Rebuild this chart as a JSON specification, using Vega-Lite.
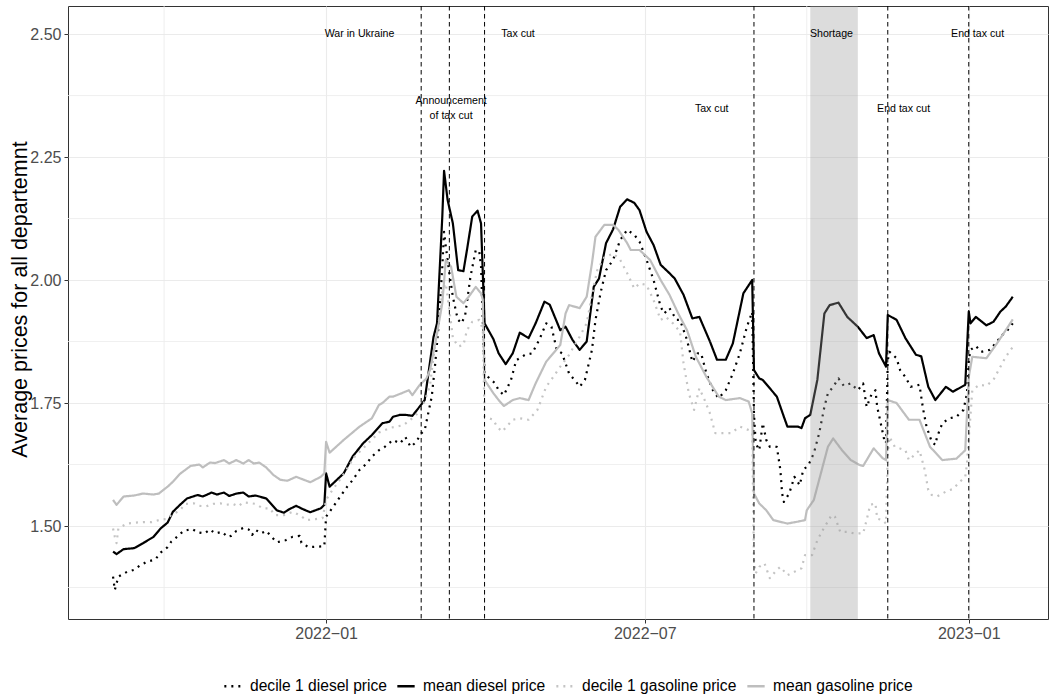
{
  "$schema": "https://vega.github.io/schema/vega-lite/v6.json",
  "width": 980,
  "height": 613,
  "autosize": "none",
  "padding": {"left": 68, "top": 6, "right": 3, "bottom": 79},
  "background": "white",
  "config": {
    "font": "Liberation Sans",
    "view": {"stroke": "#333333", "strokeWidth": 1}
  },
  "datasets": {
    "prices": [
      {"series": "decile 1 diesel price", "date": "2021-09-02", "price": 1.397},
      {"series": "decile 1 diesel price", "date": "2021-09-03", "price": 1.370},
      {"series": "decile 1 diesel price", "date": "2021-09-05", "price": 1.397},
      {"series": "decile 1 diesel price", "date": "2021-09-10", "price": 1.407},
      {"series": "decile 1 diesel price", "date": "2021-09-14", "price": 1.411},
      {"series": "decile 1 diesel price", "date": "2021-09-17", "price": 1.419},
      {"series": "decile 1 diesel price", "date": "2021-09-21", "price": 1.427},
      {"series": "decile 1 diesel price", "date": "2021-09-26", "price": 1.432},
      {"series": "decile 1 diesel price", "date": "2021-09-29", "price": 1.446},
      {"series": "decile 1 diesel price", "date": "2021-10-03", "price": 1.457},
      {"series": "decile 1 diesel price", "date": "2021-10-05", "price": 1.468},
      {"series": "decile 1 diesel price", "date": "2021-10-09", "price": 1.480},
      {"series": "decile 1 diesel price", "date": "2021-10-12", "price": 1.490},
      {"series": "decile 1 diesel price", "date": "2021-10-17", "price": 1.494},
      {"series": "decile 1 diesel price", "date": "2021-10-20", "price": 1.487},
      {"series": "decile 1 diesel price", "date": "2021-10-24", "price": 1.485},
      {"series": "decile 1 diesel price", "date": "2021-10-27", "price": 1.493},
      {"series": "decile 1 diesel price", "date": "2021-10-30", "price": 1.485},
      {"series": "decile 1 diesel price", "date": "2021-11-03", "price": 1.488},
      {"series": "decile 1 diesel price", "date": "2021-11-06", "price": 1.478},
      {"series": "decile 1 diesel price", "date": "2021-11-08", "price": 1.480},
      {"series": "decile 1 diesel price", "date": "2021-11-11", "price": 1.490},
      {"series": "decile 1 diesel price", "date": "2021-11-15", "price": 1.496},
      {"series": "decile 1 diesel price", "date": "2021-11-18", "price": 1.493},
      {"series": "decile 1 diesel price", "date": "2021-11-20", "price": 1.482},
      {"series": "decile 1 diesel price", "date": "2021-11-22", "price": 1.492},
      {"series": "decile 1 diesel price", "date": "2021-11-25", "price": 1.485},
      {"series": "decile 1 diesel price", "date": "2021-11-28", "price": 1.490},
      {"series": "decile 1 diesel price", "date": "2021-12-01", "price": 1.478},
      {"series": "decile 1 diesel price", "date": "2021-12-04", "price": 1.467},
      {"series": "decile 1 diesel price", "date": "2021-12-09", "price": 1.471},
      {"series": "decile 1 diesel price", "date": "2021-12-13", "price": 1.478},
      {"series": "decile 1 diesel price", "date": "2021-12-17", "price": 1.480},
      {"series": "decile 1 diesel price", "date": "2021-12-18", "price": 1.466},
      {"series": "decile 1 diesel price", "date": "2021-12-22", "price": 1.457},
      {"series": "decile 1 diesel price", "date": "2021-12-27", "price": 1.458},
      {"series": "decile 1 diesel price", "date": "2021-12-31", "price": 1.459},
      {"series": "decile 1 diesel price", "date": "2022-01-01", "price": 1.519},
      {"series": "decile 1 diesel price", "date": "2022-01-05", "price": 1.539},
      {"series": "decile 1 diesel price", "date": "2022-01-09", "price": 1.560},
      {"series": "decile 1 diesel price", "date": "2022-01-13", "price": 1.580},
      {"series": "decile 1 diesel price", "date": "2022-01-16", "price": 1.593},
      {"series": "decile 1 diesel price", "date": "2022-01-20", "price": 1.614},
      {"series": "decile 1 diesel price", "date": "2022-01-24", "price": 1.627},
      {"series": "decile 1 diesel price", "date": "2022-01-27", "price": 1.641},
      {"series": "decile 1 diesel price", "date": "2022-01-31", "price": 1.654},
      {"series": "decile 1 diesel price", "date": "2022-02-03", "price": 1.660},
      {"series": "decile 1 diesel price", "date": "2022-02-08", "price": 1.675},
      {"series": "decile 1 diesel price", "date": "2022-02-12", "price": 1.668},
      {"series": "decile 1 diesel price", "date": "2022-02-15", "price": 1.681},
      {"series": "decile 1 diesel price", "date": "2022-02-18", "price": 1.661},
      {"series": "decile 1 diesel price", "date": "2022-02-21", "price": 1.670},
      {"series": "decile 1 diesel price", "date": "2022-02-24", "price": 1.688},
      {"series": "decile 1 diesel price", "date": "2022-02-26", "price": 1.695},
      {"series": "decile 1 diesel price", "date": "2022-03-02", "price": 1.763},
      {"series": "decile 1 diesel price", "date": "2022-03-04", "price": 1.831},
      {"series": "decile 1 diesel price", "date": "2022-03-06", "price": 1.912},
      {"series": "decile 1 diesel price", "date": "2022-03-08", "price": 2.027},
      {"series": "decile 1 diesel price", "date": "2022-03-09", "price": 2.098},
      {"series": "decile 1 diesel price", "date": "2022-03-10", "price": 2.068},
      {"series": "decile 1 diesel price", "date": "2022-03-12", "price": 2.014},
      {"series": "decile 1 diesel price", "date": "2022-03-14", "price": 1.966},
      {"series": "decile 1 diesel price", "date": "2022-03-16", "price": 1.932},
      {"series": "decile 1 diesel price", "date": "2022-03-17", "price": 1.919},
      {"series": "decile 1 diesel price", "date": "2022-03-19", "price": 1.912},
      {"series": "decile 1 diesel price", "date": "2022-03-21", "price": 1.929},
      {"series": "decile 1 diesel price", "date": "2022-03-24", "price": 2.007},
      {"series": "decile 1 diesel price", "date": "2022-03-27", "price": 2.061},
      {"series": "decile 1 diesel price", "date": "2022-03-29", "price": 2.058},
      {"series": "decile 1 diesel price", "date": "2022-03-30", "price": 2.027},
      {"series": "decile 1 diesel price", "date": "2022-04-01", "price": 1.810},
      {"series": "decile 1 diesel price", "date": "2022-04-03", "price": 1.803},
      {"series": "decile 1 diesel price", "date": "2022-04-07", "price": 1.790},
      {"series": "decile 1 diesel price", "date": "2022-04-09", "price": 1.776},
      {"series": "decile 1 diesel price", "date": "2022-04-12", "price": 1.766},
      {"series": "decile 1 diesel price", "date": "2022-04-16", "price": 1.797},
      {"series": "decile 1 diesel price", "date": "2022-04-19", "price": 1.837},
      {"series": "decile 1 diesel price", "date": "2022-04-24", "price": 1.848},
      {"series": "decile 1 diesel price", "date": "2022-04-28", "price": 1.851},
      {"series": "decile 1 diesel price", "date": "2022-05-02", "price": 1.878},
      {"series": "decile 1 diesel price", "date": "2022-05-06", "price": 1.912},
      {"series": "decile 1 diesel price", "date": "2022-05-09", "price": 1.905},
      {"series": "decile 1 diesel price", "date": "2022-05-12", "price": 1.858},
      {"series": "decile 1 diesel price", "date": "2022-05-15", "price": 1.851},
      {"series": "decile 1 diesel price", "date": "2022-05-19", "price": 1.810},
      {"series": "decile 1 diesel price", "date": "2022-05-23", "price": 1.793},
      {"series": "decile 1 diesel price", "date": "2022-05-25", "price": 1.783},
      {"series": "decile 1 diesel price", "date": "2022-05-28", "price": 1.797},
      {"series": "decile 1 diesel price", "date": "2022-06-01", "price": 1.858},
      {"series": "decile 1 diesel price", "date": "2022-06-03", "price": 1.919},
      {"series": "decile 1 diesel price", "date": "2022-06-06", "price": 1.976},
      {"series": "decile 1 diesel price", "date": "2022-06-09", "price": 2.020},
      {"series": "decile 1 diesel price", "date": "2022-06-13", "price": 2.041},
      {"series": "decile 1 diesel price", "date": "2022-06-17", "price": 2.081},
      {"series": "decile 1 diesel price", "date": "2022-06-21", "price": 2.102},
      {"series": "decile 1 diesel price", "date": "2022-06-25", "price": 2.092},
      {"series": "decile 1 diesel price", "date": "2022-06-28", "price": 2.078},
      {"series": "decile 1 diesel price", "date": "2022-07-02", "price": 2.041},
      {"series": "decile 1 diesel price", "date": "2022-07-06", "price": 2.000},
      {"series": "decile 1 diesel price", "date": "2022-07-10", "price": 1.946},
      {"series": "decile 1 diesel price", "date": "2022-07-12", "price": 1.932},
      {"series": "decile 1 diesel price", "date": "2022-07-15", "price": 1.943},
      {"series": "decile 1 diesel price", "date": "2022-07-19", "price": 1.919},
      {"series": "decile 1 diesel price", "date": "2022-07-21", "price": 1.919},
      {"series": "decile 1 diesel price", "date": "2022-07-25", "price": 1.878},
      {"series": "decile 1 diesel price", "date": "2022-07-28", "price": 1.834},
      {"series": "decile 1 diesel price", "date": "2022-07-31", "price": 1.851},
      {"series": "decile 1 diesel price", "date": "2022-08-02", "price": 1.851},
      {"series": "decile 1 diesel price", "date": "2022-08-05", "price": 1.810},
      {"series": "decile 1 diesel price", "date": "2022-08-09", "price": 1.773},
      {"series": "decile 1 diesel price", "date": "2022-08-12", "price": 1.760},
      {"series": "decile 1 diesel price", "date": "2022-08-16", "price": 1.776},
      {"series": "decile 1 diesel price", "date": "2022-08-20", "price": 1.810},
      {"series": "decile 1 diesel price", "date": "2022-08-24", "price": 1.851},
      {"series": "decile 1 diesel price", "date": "2022-08-28", "price": 1.905},
      {"series": "decile 1 diesel price", "date": "2022-08-31", "price": 1.935},
      {"series": "decile 1 diesel price", "date": "2022-09-01", "price": 1.729},
      {"series": "decile 1 diesel price", "date": "2022-09-02", "price": 1.668},
      {"series": "decile 1 diesel price", "date": "2022-09-04", "price": 1.654},
      {"series": "decile 1 diesel price", "date": "2022-09-06", "price": 1.709},
      {"series": "decile 1 diesel price", "date": "2022-09-08", "price": 1.675},
      {"series": "decile 1 diesel price", "date": "2022-09-10", "price": 1.661},
      {"series": "decile 1 diesel price", "date": "2022-09-14", "price": 1.661},
      {"series": "decile 1 diesel price", "date": "2022-09-16", "price": 1.614},
      {"series": "decile 1 diesel price", "date": "2022-09-17", "price": 1.566},
      {"series": "decile 1 diesel price", "date": "2022-09-18", "price": 1.549},
      {"series": "decile 1 diesel price", "date": "2022-09-21", "price": 1.566},
      {"series": "decile 1 diesel price", "date": "2022-09-24", "price": 1.600},
      {"series": "decile 1 diesel price", "date": "2022-09-27", "price": 1.583},
      {"series": "decile 1 diesel price", "date": "2022-09-29", "price": 1.614},
      {"series": "decile 1 diesel price", "date": "2022-10-02", "price": 1.624},
      {"series": "decile 1 diesel price", "date": "2022-10-05", "price": 1.648},
      {"series": "decile 1 diesel price", "date": "2022-10-08", "price": 1.688},
      {"series": "decile 1 diesel price", "date": "2022-10-11", "price": 1.742},
      {"series": "decile 1 diesel price", "date": "2022-10-13", "price": 1.770},
      {"series": "decile 1 diesel price", "date": "2022-10-16", "price": 1.783},
      {"series": "decile 1 diesel price", "date": "2022-10-19", "price": 1.800},
      {"series": "decile 1 diesel price", "date": "2022-10-22", "price": 1.785},
      {"series": "decile 1 diesel price", "date": "2022-10-26", "price": 1.790},
      {"series": "decile 1 diesel price", "date": "2022-10-30", "price": 1.776},
      {"series": "decile 1 diesel price", "date": "2022-11-02", "price": 1.790},
      {"series": "decile 1 diesel price", "date": "2022-11-04", "price": 1.742},
      {"series": "decile 1 diesel price", "date": "2022-11-07", "price": 1.770},
      {"series": "decile 1 diesel price", "date": "2022-11-09", "price": 1.776},
      {"series": "decile 1 diesel price", "date": "2022-11-10", "price": 1.742},
      {"series": "decile 1 diesel price", "date": "2022-11-12", "price": 1.709},
      {"series": "decile 1 diesel price", "date": "2022-11-14", "price": 1.675},
      {"series": "decile 1 diesel price", "date": "2022-11-15", "price": 1.668},
      {"series": "decile 1 diesel price", "date": "2022-11-16", "price": 1.837},
      {"series": "decile 1 diesel price", "date": "2022-11-17", "price": 1.854},
      {"series": "decile 1 diesel price", "date": "2022-11-21", "price": 1.841},
      {"series": "decile 1 diesel price", "date": "2022-11-23", "price": 1.817},
      {"series": "decile 1 diesel price", "date": "2022-11-26", "price": 1.803},
      {"series": "decile 1 diesel price", "date": "2022-11-29", "price": 1.783},
      {"series": "decile 1 diesel price", "date": "2022-12-04", "price": 1.787},
      {"series": "decile 1 diesel price", "date": "2022-12-06", "price": 1.739},
      {"series": "decile 1 diesel price", "date": "2022-12-08", "price": 1.702},
      {"series": "decile 1 diesel price", "date": "2022-12-11", "price": 1.671},
      {"series": "decile 1 diesel price", "date": "2022-12-13", "price": 1.665},
      {"series": "decile 1 diesel price", "date": "2022-12-14", "price": 1.681},
      {"series": "decile 1 diesel price", "date": "2022-12-17", "price": 1.709},
      {"series": "decile 1 diesel price", "date": "2022-12-21", "price": 1.719},
      {"series": "decile 1 diesel price", "date": "2022-12-25", "price": 1.722},
      {"series": "decile 1 diesel price", "date": "2022-12-29", "price": 1.736},
      {"series": "decile 1 diesel price", "date": "2022-12-31", "price": 1.770},
      {"series": "decile 1 diesel price", "date": "2023-01-01", "price": 1.837},
      {"series": "decile 1 diesel price", "date": "2023-01-02", "price": 1.858},
      {"series": "decile 1 diesel price", "date": "2023-01-05", "price": 1.866},
      {"series": "decile 1 diesel price", "date": "2023-01-08", "price": 1.854},
      {"series": "decile 1 diesel price", "date": "2023-01-13", "price": 1.858},
      {"series": "decile 1 diesel price", "date": "2023-01-17", "price": 1.875},
      {"series": "decile 1 diesel price", "date": "2023-01-20", "price": 1.888},
      {"series": "decile 1 diesel price", "date": "2023-01-23", "price": 1.898},
      {"series": "decile 1 diesel price", "date": "2023-01-26", "price": 1.912},

      {"series": "mean diesel price", "date": "2021-09-02", "price": 1.448},
      {"series": "mean diesel price", "date": "2021-09-04", "price": 1.443},
      {"series": "mean diesel price", "date": "2021-09-08", "price": 1.453},
      {"series": "mean diesel price", "date": "2021-09-14", "price": 1.455},
      {"series": "mean diesel price", "date": "2021-09-19", "price": 1.465},
      {"series": "mean diesel price", "date": "2021-09-25", "price": 1.478},
      {"series": "mean diesel price", "date": "2021-09-29", "price": 1.495},
      {"series": "mean diesel price", "date": "2021-10-03", "price": 1.507},
      {"series": "mean diesel price", "date": "2021-10-06", "price": 1.529},
      {"series": "mean diesel price", "date": "2021-10-10", "price": 1.543},
      {"series": "mean diesel price", "date": "2021-10-14", "price": 1.556},
      {"series": "mean diesel price", "date": "2021-10-20", "price": 1.563},
      {"series": "mean diesel price", "date": "2021-10-23", "price": 1.560},
      {"series": "mean diesel price", "date": "2021-10-28", "price": 1.568},
      {"series": "mean diesel price", "date": "2021-10-31", "price": 1.564},
      {"series": "mean diesel price", "date": "2021-11-04", "price": 1.568},
      {"series": "mean diesel price", "date": "2021-11-07", "price": 1.561},
      {"series": "mean diesel price", "date": "2021-11-11", "price": 1.566},
      {"series": "mean diesel price", "date": "2021-11-15", "price": 1.568},
      {"series": "mean diesel price", "date": "2021-11-18", "price": 1.560},
      {"series": "mean diesel price", "date": "2021-11-22", "price": 1.562},
      {"series": "mean diesel price", "date": "2021-11-28", "price": 1.556},
      {"series": "mean diesel price", "date": "2021-12-04", "price": 1.532},
      {"series": "mean diesel price", "date": "2021-12-08", "price": 1.527},
      {"series": "mean diesel price", "date": "2021-12-11", "price": 1.534},
      {"series": "mean diesel price", "date": "2021-12-15", "price": 1.541},
      {"series": "mean diesel price", "date": "2021-12-19", "price": 1.534},
      {"series": "mean diesel price", "date": "2021-12-23", "price": 1.528},
      {"series": "mean diesel price", "date": "2021-12-29", "price": 1.536},
      {"series": "mean diesel price", "date": "2021-12-31", "price": 1.543},
      {"series": "mean diesel price", "date": "2022-01-01", "price": 1.607},
      {"series": "mean diesel price", "date": "2022-01-03", "price": 1.580},
      {"series": "mean diesel price", "date": "2022-01-11", "price": 1.607},
      {"series": "mean diesel price", "date": "2022-01-16", "price": 1.641},
      {"series": "mean diesel price", "date": "2022-01-22", "price": 1.668},
      {"series": "mean diesel price", "date": "2022-01-27", "price": 1.685},
      {"series": "mean diesel price", "date": "2022-02-02", "price": 1.709},
      {"series": "mean diesel price", "date": "2022-02-06", "price": 1.712},
      {"series": "mean diesel price", "date": "2022-02-08", "price": 1.722},
      {"series": "mean diesel price", "date": "2022-02-12", "price": 1.726},
      {"series": "mean diesel price", "date": "2022-02-15", "price": 1.726},
      {"series": "mean diesel price", "date": "2022-02-19", "price": 1.724},
      {"series": "mean diesel price", "date": "2022-02-23", "price": 1.742},
      {"series": "mean diesel price", "date": "2022-02-26", "price": 1.756},
      {"series": "mean diesel price", "date": "2022-03-03", "price": 1.884},
      {"series": "mean diesel price", "date": "2022-03-05", "price": 1.912},
      {"series": "mean diesel price", "date": "2022-03-08", "price": 2.129},
      {"series": "mean diesel price", "date": "2022-03-09", "price": 2.222},
      {"series": "mean diesel price", "date": "2022-03-11", "price": 2.163},
      {"series": "mean diesel price", "date": "2022-03-14", "price": 2.115},
      {"series": "mean diesel price", "date": "2022-03-17", "price": 2.020},
      {"series": "mean diesel price", "date": "2022-03-20", "price": 2.018},
      {"series": "mean diesel price", "date": "2022-03-22", "price": 2.061},
      {"series": "mean diesel price", "date": "2022-03-25", "price": 2.129},
      {"series": "mean diesel price", "date": "2022-03-28", "price": 2.141},
      {"series": "mean diesel price", "date": "2022-03-30", "price": 2.115},
      {"series": "mean diesel price", "date": "2022-04-01", "price": 1.912},
      {"series": "mean diesel price", "date": "2022-04-06", "price": 1.880},
      {"series": "mean diesel price", "date": "2022-04-09", "price": 1.851},
      {"series": "mean diesel price", "date": "2022-04-13", "price": 1.829},
      {"series": "mean diesel price", "date": "2022-04-17", "price": 1.851},
      {"series": "mean diesel price", "date": "2022-04-21", "price": 1.893},
      {"series": "mean diesel price", "date": "2022-04-26", "price": 1.882},
      {"series": "mean diesel price", "date": "2022-04-30", "price": 1.912},
      {"series": "mean diesel price", "date": "2022-05-05", "price": 1.956},
      {"series": "mean diesel price", "date": "2022-05-08", "price": 1.950},
      {"series": "mean diesel price", "date": "2022-05-14", "price": 1.898},
      {"series": "mean diesel price", "date": "2022-05-17", "price": 1.905},
      {"series": "mean diesel price", "date": "2022-05-21", "price": 1.878},
      {"series": "mean diesel price", "date": "2022-05-25", "price": 1.858},
      {"series": "mean diesel price", "date": "2022-05-29", "price": 1.875},
      {"series": "mean diesel price", "date": "2022-06-02", "price": 1.986},
      {"series": "mean diesel price", "date": "2022-06-05", "price": 2.003},
      {"series": "mean diesel price", "date": "2022-06-09", "price": 2.075},
      {"series": "mean diesel price", "date": "2022-06-13", "price": 2.103},
      {"series": "mean diesel price", "date": "2022-06-17", "price": 2.149},
      {"series": "mean diesel price", "date": "2022-06-21", "price": 2.164},
      {"series": "mean diesel price", "date": "2022-06-25", "price": 2.157},
      {"series": "mean diesel price", "date": "2022-06-28", "price": 2.142},
      {"series": "mean diesel price", "date": "2022-07-02", "price": 2.098},
      {"series": "mean diesel price", "date": "2022-07-06", "price": 2.071},
      {"series": "mean diesel price", "date": "2022-07-10", "price": 2.031},
      {"series": "mean diesel price", "date": "2022-07-15", "price": 2.014},
      {"series": "mean diesel price", "date": "2022-07-18", "price": 2.003},
      {"series": "mean diesel price", "date": "2022-07-23", "price": 1.970},
      {"series": "mean diesel price", "date": "2022-07-28", "price": 1.922},
      {"series": "mean diesel price", "date": "2022-08-01", "price": 1.925},
      {"series": "mean diesel price", "date": "2022-08-07", "price": 1.875},
      {"series": "mean diesel price", "date": "2022-08-11", "price": 1.838},
      {"series": "mean diesel price", "date": "2022-08-16", "price": 1.838},
      {"series": "mean diesel price", "date": "2022-08-20", "price": 1.871},
      {"series": "mean diesel price", "date": "2022-08-26", "price": 1.973},
      {"series": "mean diesel price", "date": "2022-08-31", "price": 2.000},
      {"series": "mean diesel price", "date": "2022-09-01", "price": 1.817},
      {"series": "mean diesel price", "date": "2022-09-04", "price": 1.800},
      {"series": "mean diesel price", "date": "2022-09-06", "price": 1.797},
      {"series": "mean diesel price", "date": "2022-09-10", "price": 1.780},
      {"series": "mean diesel price", "date": "2022-09-14", "price": 1.763},
      {"series": "mean diesel price", "date": "2022-09-18", "price": 1.722},
      {"series": "mean diesel price", "date": "2022-09-20", "price": 1.702},
      {"series": "mean diesel price", "date": "2022-09-26", "price": 1.702},
      {"series": "mean diesel price", "date": "2022-09-28", "price": 1.699},
      {"series": "mean diesel price", "date": "2022-09-30", "price": 1.719},
      {"series": "mean diesel price", "date": "2022-10-03", "price": 1.726},
      {"series": "mean diesel price", "date": "2022-10-07", "price": 1.797},
      {"series": "mean diesel price", "date": "2022-10-11", "price": 1.932},
      {"series": "mean diesel price", "date": "2022-10-14", "price": 1.949},
      {"series": "mean diesel price", "date": "2022-10-19", "price": 1.954},
      {"series": "mean diesel price", "date": "2022-10-24", "price": 1.925},
      {"series": "mean diesel price", "date": "2022-10-30", "price": 1.905},
      {"series": "mean diesel price", "date": "2022-11-04", "price": 1.882},
      {"series": "mean diesel price", "date": "2022-11-08", "price": 1.888},
      {"series": "mean diesel price", "date": "2022-11-11", "price": 1.851},
      {"series": "mean diesel price", "date": "2022-11-15", "price": 1.824},
      {"series": "mean diesel price", "date": "2022-11-16", "price": 1.929},
      {"series": "mean diesel price", "date": "2022-11-21", "price": 1.919},
      {"series": "mean diesel price", "date": "2022-11-26", "price": 1.882},
      {"series": "mean diesel price", "date": "2022-12-02", "price": 1.848},
      {"series": "mean diesel price", "date": "2022-12-05", "price": 1.845},
      {"series": "mean diesel price", "date": "2022-12-09", "price": 1.783},
      {"series": "mean diesel price", "date": "2022-12-13", "price": 1.756},
      {"series": "mean diesel price", "date": "2022-12-19", "price": 1.783},
      {"series": "mean diesel price", "date": "2022-12-23", "price": 1.773},
      {"series": "mean diesel price", "date": "2022-12-30", "price": 1.787},
      {"series": "mean diesel price", "date": "2023-01-01", "price": 1.936},
      {"series": "mean diesel price", "date": "2023-01-02", "price": 1.912},
      {"series": "mean diesel price", "date": "2023-01-05", "price": 1.925},
      {"series": "mean diesel price", "date": "2023-01-11", "price": 1.908},
      {"series": "mean diesel price", "date": "2023-01-15", "price": 1.915},
      {"series": "mean diesel price", "date": "2023-01-19", "price": 1.936},
      {"series": "mean diesel price", "date": "2023-01-22", "price": 1.946},
      {"series": "mean diesel price", "date": "2023-01-26", "price": 1.966},

      {"series": "decile 1 gasoline price", "date": "2021-09-02", "price": 1.495},
      {"series": "decile 1 gasoline price", "date": "2021-09-03", "price": 1.478},
      {"series": "decile 1 gasoline price", "date": "2021-09-04", "price": 1.465},
      {"series": "decile 1 gasoline price", "date": "2021-09-05", "price": 1.495},
      {"series": "decile 1 gasoline price", "date": "2021-09-10", "price": 1.505},
      {"series": "decile 1 gasoline price", "date": "2021-09-15", "price": 1.507},
      {"series": "decile 1 gasoline price", "date": "2021-09-19", "price": 1.508},
      {"series": "decile 1 gasoline price", "date": "2021-09-24", "price": 1.508},
      {"series": "decile 1 gasoline price", "date": "2021-09-28", "price": 1.512},
      {"series": "decile 1 gasoline price", "date": "2021-10-02", "price": 1.514},
      {"series": "decile 1 gasoline price", "date": "2021-10-05", "price": 1.522},
      {"series": "decile 1 gasoline price", "date": "2021-10-10", "price": 1.532},
      {"series": "decile 1 gasoline price", "date": "2021-10-13", "price": 1.545},
      {"series": "decile 1 gasoline price", "date": "2021-10-18", "price": 1.546},
      {"series": "decile 1 gasoline price", "date": "2021-10-21", "price": 1.541},
      {"series": "decile 1 gasoline price", "date": "2021-10-25", "price": 1.540},
      {"series": "decile 1 gasoline price", "date": "2021-10-29", "price": 1.545},
      {"series": "decile 1 gasoline price", "date": "2021-11-02", "price": 1.546},
      {"series": "decile 1 gasoline price", "date": "2021-11-05", "price": 1.543},
      {"series": "decile 1 gasoline price", "date": "2021-11-09", "price": 1.545},
      {"series": "decile 1 gasoline price", "date": "2021-11-12", "price": 1.540},
      {"series": "decile 1 gasoline price", "date": "2021-11-15", "price": 1.548},
      {"series": "decile 1 gasoline price", "date": "2021-11-18", "price": 1.547},
      {"series": "decile 1 gasoline price", "date": "2021-11-22", "price": 1.545},
      {"series": "decile 1 gasoline price", "date": "2021-11-26", "price": 1.536},
      {"series": "decile 1 gasoline price", "date": "2021-11-30", "price": 1.536},
      {"series": "decile 1 gasoline price", "date": "2021-12-03", "price": 1.522},
      {"series": "decile 1 gasoline price", "date": "2021-12-08", "price": 1.522},
      {"series": "decile 1 gasoline price", "date": "2021-12-13", "price": 1.529},
      {"series": "decile 1 gasoline price", "date": "2021-12-17", "price": 1.522},
      {"series": "decile 1 gasoline price", "date": "2021-12-21", "price": 1.512},
      {"series": "decile 1 gasoline price", "date": "2021-12-26", "price": 1.514},
      {"series": "decile 1 gasoline price", "date": "2021-12-30", "price": 1.516},
      {"series": "decile 1 gasoline price", "date": "2022-01-01", "price": 1.553},
      {"series": "decile 1 gasoline price", "date": "2022-01-03", "price": 1.565},
      {"series": "decile 1 gasoline price", "date": "2022-01-10", "price": 1.600},
      {"series": "decile 1 gasoline price", "date": "2022-01-17", "price": 1.640},
      {"series": "decile 1 gasoline price", "date": "2022-01-24", "price": 1.665},
      {"series": "decile 1 gasoline price", "date": "2022-01-31", "price": 1.690},
      {"series": "decile 1 gasoline price", "date": "2022-02-07", "price": 1.700},
      {"series": "decile 1 gasoline price", "date": "2022-02-14", "price": 1.705},
      {"series": "decile 1 gasoline price", "date": "2022-02-21", "price": 1.725},
      {"series": "decile 1 gasoline price", "date": "2022-02-25", "price": 1.745},
      {"series": "decile 1 gasoline price", "date": "2022-03-01", "price": 1.785},
      {"series": "decile 1 gasoline price", "date": "2022-03-03", "price": 1.844},
      {"series": "decile 1 gasoline price", "date": "2022-03-07", "price": 1.939},
      {"series": "decile 1 gasoline price", "date": "2022-03-08", "price": 1.980},
      {"series": "decile 1 gasoline price", "date": "2022-03-10", "price": 1.993},
      {"series": "decile 1 gasoline price", "date": "2022-03-13", "price": 1.912},
      {"series": "decile 1 gasoline price", "date": "2022-03-14", "price": 1.882},
      {"series": "decile 1 gasoline price", "date": "2022-03-17", "price": 1.865},
      {"series": "decile 1 gasoline price", "date": "2022-03-20", "price": 1.868},
      {"series": "decile 1 gasoline price", "date": "2022-03-22", "price": 1.898},
      {"series": "decile 1 gasoline price", "date": "2022-03-25", "price": 1.915},
      {"series": "decile 1 gasoline price", "date": "2022-03-29", "price": 1.919},
      {"series": "decile 1 gasoline price", "date": "2022-03-31", "price": 1.900},
      {"series": "decile 1 gasoline price", "date": "2022-04-01", "price": 1.722},
      {"series": "decile 1 gasoline price", "date": "2022-04-06", "price": 1.716},
      {"series": "decile 1 gasoline price", "date": "2022-04-08", "price": 1.702},
      {"series": "decile 1 gasoline price", "date": "2022-04-11", "price": 1.692},
      {"series": "decile 1 gasoline price", "date": "2022-04-17", "price": 1.716},
      {"series": "decile 1 gasoline price", "date": "2022-04-21", "price": 1.719},
      {"series": "decile 1 gasoline price", "date": "2022-04-26", "price": 1.716},
      {"series": "decile 1 gasoline price", "date": "2022-05-01", "price": 1.736},
      {"series": "decile 1 gasoline price", "date": "2022-05-06", "price": 1.783},
      {"series": "decile 1 gasoline price", "date": "2022-05-10", "price": 1.803},
      {"series": "decile 1 gasoline price", "date": "2022-05-14", "price": 1.824},
      {"series": "decile 1 gasoline price", "date": "2022-05-19", "price": 1.848},
      {"series": "decile 1 gasoline price", "date": "2022-05-25", "price": 1.885},
      {"series": "decile 1 gasoline price", "date": "2022-05-29", "price": 1.912},
      {"series": "decile 1 gasoline price", "date": "2022-06-01", "price": 1.970},
      {"series": "decile 1 gasoline price", "date": "2022-06-04", "price": 2.020},
      {"series": "decile 1 gasoline price", "date": "2022-06-08", "price": 2.046},
      {"series": "decile 1 gasoline price", "date": "2022-06-13", "price": 2.054},
      {"series": "decile 1 gasoline price", "date": "2022-06-17", "price": 2.041},
      {"series": "decile 1 gasoline price", "date": "2022-06-21", "price": 2.014},
      {"series": "decile 1 gasoline price", "date": "2022-06-25", "price": 1.983},
      {"series": "decile 1 gasoline price", "date": "2022-06-28", "price": 1.993},
      {"series": "decile 1 gasoline price", "date": "2022-07-02", "price": 1.990},
      {"series": "decile 1 gasoline price", "date": "2022-07-06", "price": 1.959},
      {"series": "decile 1 gasoline price", "date": "2022-07-10", "price": 1.919},
      {"series": "decile 1 gasoline price", "date": "2022-07-13", "price": 1.925},
      {"series": "decile 1 gasoline price", "date": "2022-07-17", "price": 1.912},
      {"series": "decile 1 gasoline price", "date": "2022-07-21", "price": 1.895},
      {"series": "decile 1 gasoline price", "date": "2022-07-23", "price": 1.831},
      {"series": "decile 1 gasoline price", "date": "2022-07-26", "price": 1.770},
      {"series": "decile 1 gasoline price", "date": "2022-07-29", "price": 1.736},
      {"series": "decile 1 gasoline price", "date": "2022-08-01", "price": 1.780},
      {"series": "decile 1 gasoline price", "date": "2022-08-04", "price": 1.756},
      {"series": "decile 1 gasoline price", "date": "2022-08-07", "price": 1.729},
      {"series": "decile 1 gasoline price", "date": "2022-08-10", "price": 1.689},
      {"series": "decile 1 gasoline price", "date": "2022-08-14", "price": 1.689},
      {"series": "decile 1 gasoline price", "date": "2022-08-19", "price": 1.689},
      {"series": "decile 1 gasoline price", "date": "2022-08-24", "price": 1.702},
      {"series": "decile 1 gasoline price", "date": "2022-08-29", "price": 1.695},
      {"series": "decile 1 gasoline price", "date": "2022-08-31", "price": 1.689},
      {"series": "decile 1 gasoline price", "date": "2022-09-01", "price": 1.431},
      {"series": "decile 1 gasoline price", "date": "2022-09-02", "price": 1.404},
      {"series": "decile 1 gasoline price", "date": "2022-09-04", "price": 1.417},
      {"series": "decile 1 gasoline price", "date": "2022-09-07", "price": 1.424},
      {"series": "decile 1 gasoline price", "date": "2022-09-10", "price": 1.394},
      {"series": "decile 1 gasoline price", "date": "2022-09-14", "price": 1.411},
      {"series": "decile 1 gasoline price", "date": "2022-09-16", "price": 1.417},
      {"series": "decile 1 gasoline price", "date": "2022-09-20", "price": 1.400},
      {"series": "decile 1 gasoline price", "date": "2022-09-24", "price": 1.407},
      {"series": "decile 1 gasoline price", "date": "2022-09-28", "price": 1.414},
      {"series": "decile 1 gasoline price", "date": "2022-09-30", "price": 1.441},
      {"series": "decile 1 gasoline price", "date": "2022-10-04", "price": 1.441},
      {"series": "decile 1 gasoline price", "date": "2022-10-07", "price": 1.471},
      {"series": "decile 1 gasoline price", "date": "2022-10-11", "price": 1.498},
      {"series": "decile 1 gasoline price", "date": "2022-10-13", "price": 1.509},
      {"series": "decile 1 gasoline price", "date": "2022-10-15", "price": 1.522},
      {"series": "decile 1 gasoline price", "date": "2022-10-17", "price": 1.519},
      {"series": "decile 1 gasoline price", "date": "2022-10-20", "price": 1.488},
      {"series": "decile 1 gasoline price", "date": "2022-10-24", "price": 1.488},
      {"series": "decile 1 gasoline price", "date": "2022-10-28", "price": 1.485},
      {"series": "decile 1 gasoline price", "date": "2022-10-31", "price": 1.485},
      {"series": "decile 1 gasoline price", "date": "2022-11-02", "price": 1.485},
      {"series": "decile 1 gasoline price", "date": "2022-11-04", "price": 1.512},
      {"series": "decile 1 gasoline price", "date": "2022-11-06", "price": 1.543},
      {"series": "decile 1 gasoline price", "date": "2022-11-09", "price": 1.546},
      {"series": "decile 1 gasoline price", "date": "2022-11-10", "price": 1.515},
      {"series": "decile 1 gasoline price", "date": "2022-11-13", "price": 1.512},
      {"series": "decile 1 gasoline price", "date": "2022-11-15", "price": 1.505},
      {"series": "decile 1 gasoline price", "date": "2022-11-16", "price": 1.648},
      {"series": "decile 1 gasoline price", "date": "2022-11-17", "price": 1.681},
      {"series": "decile 1 gasoline price", "date": "2022-11-20", "price": 1.661},
      {"series": "decile 1 gasoline price", "date": "2022-11-26", "price": 1.654},
      {"series": "decile 1 gasoline price", "date": "2022-11-28", "price": 1.634},
      {"series": "decile 1 gasoline price", "date": "2022-12-04", "price": 1.654},
      {"series": "decile 1 gasoline price", "date": "2022-12-07", "price": 1.614},
      {"series": "decile 1 gasoline price", "date": "2022-12-09", "price": 1.573},
      {"series": "decile 1 gasoline price", "date": "2022-12-11", "price": 1.563},
      {"series": "decile 1 gasoline price", "date": "2022-12-14", "price": 1.560},
      {"series": "decile 1 gasoline price", "date": "2022-12-20", "price": 1.572},
      {"series": "decile 1 gasoline price", "date": "2022-12-23", "price": 1.575},
      {"series": "decile 1 gasoline price", "date": "2022-12-27", "price": 1.590},
      {"series": "decile 1 gasoline price", "date": "2022-12-30", "price": 1.600},
      {"series": "decile 1 gasoline price", "date": "2022-12-31", "price": 1.627},
      {"series": "decile 1 gasoline price", "date": "2023-01-01", "price": 1.680},
      {"series": "decile 1 gasoline price", "date": "2023-01-02", "price": 1.726},
      {"series": "decile 1 gasoline price", "date": "2023-01-03", "price": 1.776},
      {"series": "decile 1 gasoline price", "date": "2023-01-07", "price": 1.787},
      {"series": "decile 1 gasoline price", "date": "2023-01-11", "price": 1.785},
      {"series": "decile 1 gasoline price", "date": "2023-01-15", "price": 1.797},
      {"series": "decile 1 gasoline price", "date": "2023-01-19", "price": 1.824},
      {"series": "decile 1 gasoline price", "date": "2023-01-22", "price": 1.844},
      {"series": "decile 1 gasoline price", "date": "2023-01-26", "price": 1.864},

      {"series": "mean gasoline price", "date": "2021-09-02", "price": 1.553},
      {"series": "mean gasoline price", "date": "2021-09-04", "price": 1.543},
      {"series": "mean gasoline price", "date": "2021-09-08", "price": 1.560},
      {"series": "mean gasoline price", "date": "2021-09-14", "price": 1.562},
      {"series": "mean gasoline price", "date": "2021-09-19", "price": 1.566},
      {"series": "mean gasoline price", "date": "2021-09-25", "price": 1.564},
      {"series": "mean gasoline price", "date": "2021-09-28", "price": 1.566},
      {"series": "mean gasoline price", "date": "2021-10-03", "price": 1.580},
      {"series": "mean gasoline price", "date": "2021-10-06", "price": 1.590},
      {"series": "mean gasoline price", "date": "2021-10-10", "price": 1.606},
      {"series": "mean gasoline price", "date": "2021-10-16", "price": 1.622},
      {"series": "mean gasoline price", "date": "2021-10-21", "price": 1.625},
      {"series": "mean gasoline price", "date": "2021-10-23", "price": 1.619},
      {"series": "mean gasoline price", "date": "2021-10-27", "price": 1.629},
      {"series": "mean gasoline price", "date": "2021-10-30", "price": 1.628},
      {"series": "mean gasoline price", "date": "2021-11-04", "price": 1.634},
      {"series": "mean gasoline price", "date": "2021-11-07", "price": 1.627},
      {"series": "mean gasoline price", "date": "2021-11-11", "price": 1.634},
      {"series": "mean gasoline price", "date": "2021-11-15", "price": 1.627},
      {"series": "mean gasoline price", "date": "2021-11-18", "price": 1.634},
      {"series": "mean gasoline price", "date": "2021-11-21", "price": 1.627},
      {"series": "mean gasoline price", "date": "2021-11-24", "price": 1.629},
      {"series": "mean gasoline price", "date": "2021-11-28", "price": 1.619},
      {"series": "mean gasoline price", "date": "2021-12-02", "price": 1.604},
      {"series": "mean gasoline price", "date": "2021-12-06", "price": 1.594},
      {"series": "mean gasoline price", "date": "2021-12-10", "price": 1.592},
      {"series": "mean gasoline price", "date": "2021-12-15", "price": 1.600},
      {"series": "mean gasoline price", "date": "2021-12-23", "price": 1.589},
      {"series": "mean gasoline price", "date": "2021-12-29", "price": 1.600},
      {"series": "mean gasoline price", "date": "2021-12-31", "price": 1.607},
      {"series": "mean gasoline price", "date": "2022-01-01", "price": 1.671},
      {"series": "mean gasoline price", "date": "2022-01-03", "price": 1.649},
      {"series": "mean gasoline price", "date": "2022-01-11", "price": 1.675},
      {"series": "mean gasoline price", "date": "2022-01-16", "price": 1.690},
      {"series": "mean gasoline price", "date": "2022-01-20", "price": 1.702},
      {"series": "mean gasoline price", "date": "2022-01-27", "price": 1.719},
      {"series": "mean gasoline price", "date": "2022-01-31", "price": 1.746},
      {"series": "mean gasoline price", "date": "2022-02-02", "price": 1.750},
      {"series": "mean gasoline price", "date": "2022-02-06", "price": 1.763},
      {"series": "mean gasoline price", "date": "2022-02-08", "price": 1.763},
      {"series": "mean gasoline price", "date": "2022-02-13", "price": 1.770},
      {"series": "mean gasoline price", "date": "2022-02-17", "price": 1.776},
      {"series": "mean gasoline price", "date": "2022-02-19", "price": 1.766},
      {"series": "mean gasoline price", "date": "2022-02-23", "price": 1.786},
      {"series": "mean gasoline price", "date": "2022-02-27", "price": 1.800},
      {"series": "mean gasoline price", "date": "2022-03-01", "price": 1.817},
      {"series": "mean gasoline price", "date": "2022-03-04", "price": 1.871},
      {"series": "mean gasoline price", "date": "2022-03-08", "price": 1.953},
      {"series": "mean gasoline price", "date": "2022-03-10", "price": 2.041},
      {"series": "mean gasoline price", "date": "2022-03-13", "price": 2.027},
      {"series": "mean gasoline price", "date": "2022-03-16", "price": 1.966},
      {"series": "mean gasoline price", "date": "2022-03-20", "price": 1.953},
      {"series": "mean gasoline price", "date": "2022-03-23", "price": 1.966},
      {"series": "mean gasoline price", "date": "2022-03-27", "price": 1.986},
      {"series": "mean gasoline price", "date": "2022-03-30", "price": 1.973},
      {"series": "mean gasoline price", "date": "2022-03-31", "price": 1.960},
      {"series": "mean gasoline price", "date": "2022-04-01", "price": 1.797},
      {"series": "mean gasoline price", "date": "2022-04-06", "price": 1.770},
      {"series": "mean gasoline price", "date": "2022-04-09", "price": 1.756},
      {"series": "mean gasoline price", "date": "2022-04-12", "price": 1.744},
      {"series": "mean gasoline price", "date": "2022-04-17", "price": 1.756},
      {"series": "mean gasoline price", "date": "2022-04-21", "price": 1.760},
      {"series": "mean gasoline price", "date": "2022-04-26", "price": 1.756},
      {"series": "mean gasoline price", "date": "2022-04-30", "price": 1.790},
      {"series": "mean gasoline price", "date": "2022-05-06", "price": 1.834},
      {"series": "mean gasoline price", "date": "2022-05-14", "price": 1.868},
      {"series": "mean gasoline price", "date": "2022-05-17", "price": 1.932},
      {"series": "mean gasoline price", "date": "2022-05-19", "price": 1.949},
      {"series": "mean gasoline price", "date": "2022-05-25", "price": 1.943},
      {"series": "mean gasoline price", "date": "2022-05-29", "price": 1.966},
      {"series": "mean gasoline price", "date": "2022-06-01", "price": 2.034},
      {"series": "mean gasoline price", "date": "2022-06-03", "price": 2.088},
      {"series": "mean gasoline price", "date": "2022-06-08", "price": 2.112},
      {"series": "mean gasoline price", "date": "2022-06-13", "price": 2.112},
      {"series": "mean gasoline price", "date": "2022-06-16", "price": 2.102},
      {"series": "mean gasoline price", "date": "2022-06-21", "price": 2.075},
      {"series": "mean gasoline price", "date": "2022-06-23", "price": 2.061},
      {"series": "mean gasoline price", "date": "2022-06-28", "price": 2.061},
      {"series": "mean gasoline price", "date": "2022-07-04", "price": 2.041},
      {"series": "mean gasoline price", "date": "2022-07-10", "price": 2.000},
      {"series": "mean gasoline price", "date": "2022-07-15", "price": 1.970},
      {"series": "mean gasoline price", "date": "2022-07-20", "price": 1.932},
      {"series": "mean gasoline price", "date": "2022-07-25", "price": 1.898},
      {"series": "mean gasoline price", "date": "2022-07-30", "price": 1.844},
      {"series": "mean gasoline price", "date": "2022-08-05", "price": 1.803},
      {"series": "mean gasoline price", "date": "2022-08-12", "price": 1.763},
      {"series": "mean gasoline price", "date": "2022-08-16", "price": 1.756},
      {"series": "mean gasoline price", "date": "2022-08-24", "price": 1.760},
      {"series": "mean gasoline price", "date": "2022-08-29", "price": 1.753},
      {"series": "mean gasoline price", "date": "2022-08-31", "price": 1.729},
      {"series": "mean gasoline price", "date": "2022-09-01", "price": 1.566},
      {"series": "mean gasoline price", "date": "2022-09-04", "price": 1.546},
      {"series": "mean gasoline price", "date": "2022-09-08", "price": 1.532},
      {"series": "mean gasoline price", "date": "2022-09-12", "price": 1.512},
      {"series": "mean gasoline price", "date": "2022-09-20", "price": 1.505},
      {"series": "mean gasoline price", "date": "2022-09-26", "price": 1.509},
      {"series": "mean gasoline price", "date": "2022-09-30", "price": 1.512},
      {"series": "mean gasoline price", "date": "2022-10-01", "price": 1.532},
      {"series": "mean gasoline price", "date": "2022-10-05", "price": 1.553},
      {"series": "mean gasoline price", "date": "2022-10-09", "price": 1.607},
      {"series": "mean gasoline price", "date": "2022-10-13", "price": 1.661},
      {"series": "mean gasoline price", "date": "2022-10-16", "price": 1.678},
      {"series": "mean gasoline price", "date": "2022-10-21", "price": 1.654},
      {"series": "mean gasoline price", "date": "2022-10-26", "price": 1.634},
      {"series": "mean gasoline price", "date": "2022-10-31", "price": 1.624},
      {"series": "mean gasoline price", "date": "2022-11-02", "price": 1.622},
      {"series": "mean gasoline price", "date": "2022-11-08", "price": 1.658},
      {"series": "mean gasoline price", "date": "2022-11-13", "price": 1.638},
      {"series": "mean gasoline price", "date": "2022-11-15", "price": 1.634},
      {"series": "mean gasoline price", "date": "2022-11-16", "price": 1.756},
      {"series": "mean gasoline price", "date": "2022-11-21", "price": 1.750},
      {"series": "mean gasoline price", "date": "2022-11-28", "price": 1.716},
      {"series": "mean gasoline price", "date": "2022-12-04", "price": 1.716},
      {"series": "mean gasoline price", "date": "2022-12-10", "price": 1.661},
      {"series": "mean gasoline price", "date": "2022-12-17", "price": 1.634},
      {"series": "mean gasoline price", "date": "2022-12-25", "price": 1.637},
      {"series": "mean gasoline price", "date": "2022-12-30", "price": 1.654},
      {"series": "mean gasoline price", "date": "2023-01-01", "price": 1.803},
      {"series": "mean gasoline price", "date": "2023-01-03", "price": 1.844},
      {"series": "mean gasoline price", "date": "2023-01-11", "price": 1.841},
      {"series": "mean gasoline price", "date": "2023-01-17", "price": 1.871},
      {"series": "mean gasoline price", "date": "2023-01-22", "price": 1.898},
      {"series": "mean gasoline price", "date": "2023-01-26", "price": 1.920}
    ],
    "events": [
      {"date": "2022-02-24"},
      {"date": "2022-03-12"},
      {"date": "2022-04-01"},
      {"date": "2022-09-01"},
      {"date": "2022-11-16"},
      {"date": "2023-01-01"}
    ],
    "labels": [
      {"date": "2022-01-20", "price": 2.50, "label": "War in Ukraine"},
      {"date": "2022-03-13", "price": 2.364, "label": "Announcement\nof tax cut"},
      {"date": "2022-04-20", "price": 2.50, "label": "Tax cut"},
      {"date": "2022-08-08", "price": 2.347, "label": "Tax cut"},
      {"date": "2022-10-15", "price": 2.50, "label": "Shortage"},
      {"date": "2022-11-25", "price": 2.347, "label": "End tax cut"},
      {"date": "2023-01-06", "price": 2.50, "label": "End tax cut"}
    ],
    "band": [
      {"date": "2022-10-03", "date2": "2022-10-30"}
    ],
    "minorX": [
      {"date": "2021-10-01"},
      {"date": "2022-04-01"},
      {"date": "2022-10-01"}
    ],
    "minorY": [
      {"price": 1.375},
      {"price": 1.625},
      {"price": 1.875},
      {"price": 2.125},
      {"price": 2.375}
    ]
  },
  "layer": [
    {
      "data": {"name": "minorX"},
      "mark": {"type": "rule", "color": "#EBEBEB", "strokeWidth": 0.8},
      "encoding": {
        "x": {"field": "date", "type": "temporal",
              "scale": {"domain": [{"year": 2021, "month": 8, "date": 7, "hours": 10}, {"year": 2023, "month": 2, "date": 15}]}}
      }
    },
    {
      "data": {"name": "minorY"},
      "mark": {"type": "rule", "color": "#EBEBEB", "strokeWidth": 0.8},
      "encoding": {
        "y": {"field": "price", "type": "quantitative",
              "scale": {"domain": [1.311, 2.557], "nice": false, "zero": false}}
      }
    },
    {
      "data": {"name": "prices"},
      "mark": {"type": "line", "strokeWidth": 2.2, "strokeCap": "butt", "strokeJoin": "round"},
      "encoding": {
        "x": {
          "field": "date", "type": "temporal",
          "scale": {"domain": [{"year": 2021, "month": 8, "date": 7, "hours": 10}, {"year": 2023, "month": 2, "date": 15}]},
          "axis": {
            "title": null,
            "values": [{"year": 2022, "month": 1, "date": 1}, {"year": 2022, "month": 7, "date": 1}, {"year": 2023, "month": 1, "date": 1}],
            "format": "%Y\u2212%m",
            "grid": true, "gridColor": "#EBEBEB", "gridWidth": 1.1,
            "domain": false,
            "ticks": true, "tickColor": "#333333", "tickSize": 4, "tickWidth": 1,
            "labelColor": "#4D4D4D", "labelFontSize": 16, "labelPadding": 2,
            "labelFont": "Liberation Sans"
          }
        },
        "y": {
          "field": "price", "type": "quantitative",
          "scale": {"domain": [1.311, 2.557], "nice": false, "zero": false},
          "axis": {
            "title": "Average prices for all departemnt",
            "values": [1.5, 1.75, 2.0, 2.25, 2.5],
            "format": ".2f",
            "grid": true, "gridColor": "#EBEBEB", "gridWidth": 1.1,
            "domain": false,
            "ticks": true, "tickColor": "#333333", "tickSize": 4, "tickWidth": 1,
            "labelColor": "#4D4D4D", "labelFontSize": 16, "labelPadding": 3,
            "labelFont": "Liberation Sans",
            "titleFont": "Liberation Sans", "titleFontSize": 21.5, "titleFontWeight": "normal",
            "titleColor": "#000000", "titleAngle": -90, "titleAlign": "center", "titleBaseline": "middle",
            "titleX": -48, "titleY": 293
          }
        },
        "color": {
          "field": "series", "type": "nominal",
          "scale": {
            "domain": ["decile 1 diesel price", "mean diesel price", "decile 1 gasoline price", "mean gasoline price"],
            "range": ["#000000", "#000000", "#C4C4C4", "#BEBEBE"]
          },
          "legend": {
            "title": null, "orient": "none", "legendX": 155, "legendY": 670,
            "direction": "horizontal", "symbolType": "stroke", "symbolSize": 300,
            "symbolStrokeWidth": 2.6, "labelFontSize": 15.6, "labelColor": "#000000",
            "labelFont": "Liberation Sans", "labelOffset": 7, "columnPadding": 5, "padding": 0
          }
        },
        "strokeDash": {
          "field": "series", "type": "nominal",
          "scale": {
            "domain": ["decile 1 diesel price", "mean diesel price", "decile 1 gasoline price", "mean gasoline price"],
            "range": [[2, 5], [1, 0], [2, 5], [1, 0]]
          },
          "legend": {
            "title": null, "orient": "none", "legendX": 155, "legendY": 670,
            "direction": "horizontal", "symbolType": "stroke", "symbolSize": 300,
            "symbolStrokeWidth": 2.6, "labelFontSize": 15.6, "labelColor": "#000000",
            "labelFont": "Liberation Sans", "labelOffset": 7, "columnPadding": 5, "padding": 0
          }
        }
      }
    },
    {
      "data": {"name": "band"},
      "mark": {"type": "rect", "color": "#9A9A9A", "opacity": 0.35},
      "encoding": {
        "x": {"field": "date", "type": "temporal"},
        "x2": {"field": "date2"}
      }
    },
    {
      "data": {"name": "events"},
      "mark": {"type": "rule", "color": "#000000", "strokeWidth": 1, "strokeDash": [4.5, 3.5]},
      "encoding": {
        "x": {"field": "date", "type": "temporal"}
      }
    },
    {
      "data": {"name": "labels"},
      "mark": {"type": "text", "fontSize": 10.6, "font": "Liberation Sans", "color": "#000000",
               "align": "center", "baseline": "middle", "lineBreak": "\n", "lineHeight": 15},
      "encoding": {
        "x": {"field": "date", "type": "temporal"},
        "y": {"field": "price", "type": "quantitative"},
        "text": {"field": "label"}
      }
    }
  ]
}
